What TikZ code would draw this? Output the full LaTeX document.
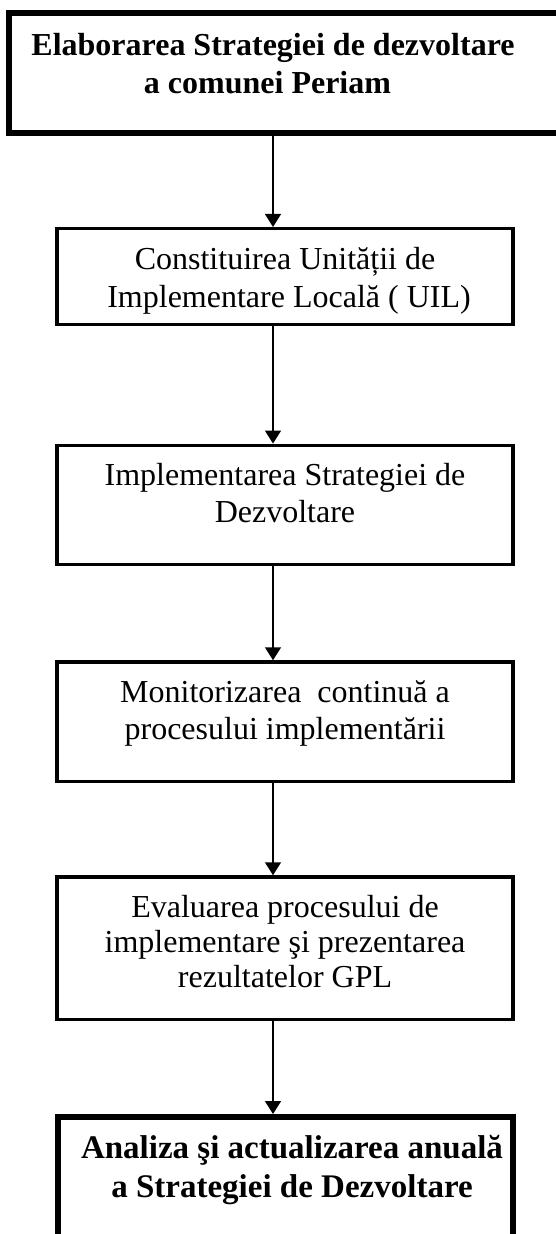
\documentclass[tikz,border=0pt]{standalone}
\usepackage{fontspec}
\setmainfont{Liberation Serif}
\usetikzlibrary{arrows.meta}
\tikzset{
  boxthin/.style={draw, line width=3.5pt, rectangle, inner sep=0pt},
  boxthick/.style={draw, line width=6pt, rectangle, inner sep=0pt},
  txt/.style={anchor=base, inner sep=0pt, font=\fontsize{32}{37}\selectfont},
  txtb/.style={anchor=base, inner sep=0pt, font=\fontsize{32}{37}\selectfont\bfseries},
  txtbb/.style={anchor=base, inner sep=0pt, font=\fontsize{33}{38}\selectfont\bfseries},
  flow/.style={line width=1.5pt, -{Triangle[width=16pt,length=13pt]}}
}
\begin{document}
\begin{tikzpicture}[x=1pt,y=-1pt]
\clip (0,0) rectangle (556,1234);
\fill[white] (0,0) rectangle (556,1234);
\coordinate (ax) at (273,0);
% boxes
\node[boxthick, minimum width=561.5pt, minimum height=119.5pt] (b1) at (289.25,72.75) {};
\node[boxthin, minimum width=456pt, minimum height=96pt] (b2) at (285,276.7) {};
\node[boxthin, minimum width=456pt, minimum height=119.4pt] (b3) at (285,505) {};
\node[boxthin, minimum width=456pt, minimum height=119.3pt] (b4) at (285,721.65) {};
\node[boxthin, minimum width=456pt, minimum height=142.5pt] (b5) at (285,948.25) {};
\node[boxthick, minimum width=455pt, minimum height=143pt] (b6) at (285.5,1188.5) {};
% texts
\node[txtb] (t1a) at (273,55) {Elaborarea Strategiei de dezvoltare};
\node[txtb] (t1b) at (267.5,93) {a comunei Periam};
\node[txt] (t2a) at (285,269) {Constituirea Unității de};
\node[txt] (t2b) at (289,307) {Implementare Locală ( UIL)};
\node[txt] (t3a) at (285,485) {Implementarea Strategiei de};
\node[txt] (t3b) at (285,522) {Dezvoltare};
\node[txt] (t4a) at (285,702) {Monitorizarea~ continuă a};
\node[txt] (t4b) at (285,739) {procesului implementării};
\node[txt] (t5a) at (285,917) {Evaluarea procesului de};
\node[txt] (t5b) at (285,952) {implementare şi prezentarea};
\node[txt] (t5c) at (285,987) {rezultatelor GPL};
\node[txtbb] (t6a) at (292,1158) {Analiza şi actualizarea anuală};
\node[txtbb] (t6b) at (292,1197) {a Strategiei de Dezvoltare};
% arrows
\draw[flow] (b1.south -| ax) -- (b2.north -| ax);
\draw[flow] (b2.south -| ax) -- (b3.north -| ax);
\draw[flow] (b3.south -| ax) -- (b4.north -| ax);
\draw[flow] (b4.south -| ax) -- (b5.north -| ax);
\draw[flow] (b5.south -| ax) -- (b6.north -| ax);
\end{tikzpicture}
\end{document}
